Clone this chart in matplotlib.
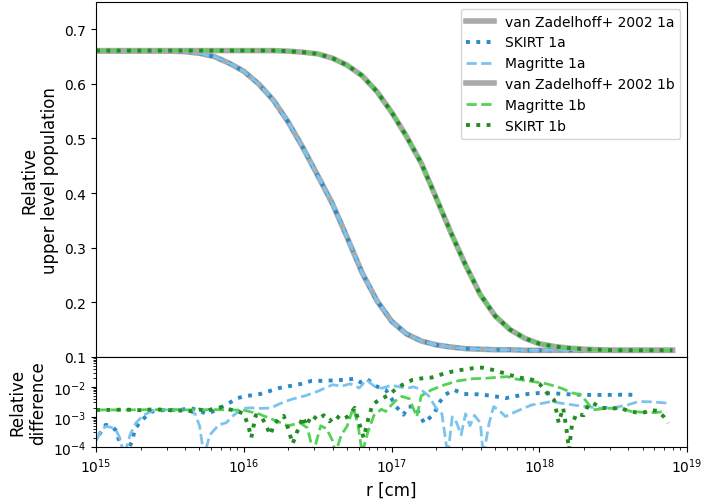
import numpy as np
import matplotlib.pyplot as plt
from matplotlib.ticker import LogLocator, NullFormatter

# Radial grid (log10 of r in cm) for the level populations
log_r = np.round(np.arange(15.0, 18.91, 0.1), 2)

# Relative upper level population, benchmark problems 1a and 1b
pop_1a = [0.660, 0.660, 0.660, 0.660, 0.660, 0.660, 0.659, 0.656, 0.650, 0.638,
          0.623, 0.600, 0.570, 0.530, 0.483, 0.432, 0.380, 0.318, 0.254, 0.203,
          0.165, 0.142, 0.129, 0.122, 0.118, 0.115, 0.114, 0.113, 0.113, 0.112,
          0.112, 0.112, 0.112, 0.112, 0.112, 0.112, 0.112, 0.112, 0.112, 0.112]
pop_1b = [0.661, 0.661, 0.661, 0.661, 0.661, 0.661, 0.661, 0.661, 0.661, 0.661,
          0.661, 0.661, 0.661, 0.660, 0.658, 0.655, 0.647, 0.634, 0.615, 0.586,
          0.548, 0.504, 0.455, 0.392, 0.328, 0.268, 0.214, 0.175, 0.150, 0.134,
          0.124, 0.119, 0.116, 0.114, 0.113, 0.112, 0.112, 0.112, 0.112, 0.112]

# Relative difference w.r.t. van Zadelhoff+ 2002 (log10 r, log10 difference)
skirt_1a_r = [15.02, 15.065, 15.1, 15.13, 15.155, 15.19, 15.245, 15.26, 15.3, 15.35,
              15.38, 15.45, 15.52, 15.58, 15.64, 15.7, 15.75, 15.8, 15.88, 15.955,
              16.0, 16.11, 16.24, 16.38, 16.46, 16.55, 16.67, 16.75, 16.79, 16.83,
              16.9, 16.96, 17.0, 17.03, 17.08, 17.11, 17.16, 17.22, 17.29, 17.32,
              17.36, 17.42, 17.49, 17.58, 17.68, 17.77, 17.85, 17.92, 17.99, 18.1,
              18.2, 18.3, 18.4, 18.5, 18.58, 18.65]
skirt_1a_d = [-3.6, -3.27, -3.3, -3.43, -3.77, -4.3, -3.82, -3.43, -3.16, -2.93,
              -2.82, -2.78, -2.77, -2.76, -2.71, -2.8, -2.91, -2.8, -2.6, -2.38,
              -2.32, -2.24, -2.04, -1.91, -1.8, -1.8, -1.77, -1.73, -1.85, -1.73,
              -1.99, -2.1, -2.4, -2.66, -2.93, -2.66, -2.66, -3.21, -2.88, -2.54,
              -2.27, -2.1, -2.24, -2.25, -2.3, -2.38, -2.3, -2.24, -2.21, -2.22,
              -2.25, -2.27, -2.27, -2.27, -2.26, -2.27]

magritte_1a_r = [15.0, 15.04, 15.07, 15.1, 15.13, 15.16, 15.19, 15.23, 15.27, 15.32,
                 15.38, 15.45, 15.55, 15.62, 15.67, 15.7, 15.73, 15.77, 15.83, 15.88,
                 15.93, 15.99, 16.05, 16.12, 16.18, 16.25, 16.32, 16.42, 16.5, 16.6,
                 16.66, 16.72, 16.78, 16.83, 16.88, 16.93, 17.0, 17.05, 17.1, 17.15,
                 17.2, 17.25, 17.3, 17.34, 17.38, 17.41, 17.44, 17.47, 17.5, 17.53,
                 17.56, 17.6, 17.62, 17.66, 17.69, 17.73, 17.77, 17.83, 17.9, 17.95,
                 18.02, 18.08, 18.15, 18.25, 18.4, 18.5, 18.6, 18.67, 18.75, 18.86]
magritte_1a_d = [-3.8, -3.4, -3.32, -3.35, -3.4, -3.7, -4.3, -3.6, -3.2, -2.95,
                 -2.8, -2.77, -2.76, -2.78, -2.9, -3.3, -4.3, -3.6, -3.27, -3.2,
                 -2.95, -2.72, -2.7, -2.72, -2.71, -2.55, -2.42, -2.29, -2.15, -1.93,
                 -1.98, -1.9, -2.04, -1.77, -1.97, -2.05, -1.95, -2.0, -2.05, -2.0,
                 -2.1, -2.3, -2.7, -2.9, -4.3, -3.0, -3.2, -3.6, -2.9, -3.3,
                 -2.95, -3.2, -4.3, -3.2, -2.66, -2.8, -2.99, -2.85, -2.7, -2.6,
                 -2.55, -2.49, -2.55, -2.62, -2.71, -2.7, -2.6, -2.49, -2.5, -2.54]

magritte_1b_r = [15.0, 15.2, 15.4, 15.6, 15.8, 16.0, 16.1, 16.2, 16.3, 16.38,
                 16.43, 16.47, 16.52, 16.56, 16.6, 16.62, 16.66, 16.7, 16.74, 16.77,
                 16.8, 16.84, 16.88, 16.93, 16.96, 17.0, 17.04, 17.07, 17.12, 17.17,
                 17.2, 17.27, 17.36, 17.45, 17.55, 17.62, 17.7, 17.78, 17.85, 17.95,
                 18.05, 18.15, 18.22, 18.28, 18.32, 18.36, 18.45, 18.55, 18.62, 18.7,
                 18.78, 18.86]
magritte_1b_d = [-2.77, -2.77, -2.76, -2.77, -2.76, -2.78, -2.9, -3.1, -3.3, -3.2,
                 -3.37, -4.2, -3.3, -3.4, -3.8, -4.2, -3.6, -3.3, -2.7, -3.2,
                 -4.2, -3.5, -2.95, -2.75, -2.82, -2.6, -2.4, -2.32, -2.4, -3.0,
                 -2.3, -2.1, -1.93, -1.8, -1.73, -1.72, -1.69, -1.66, -1.75, -1.82,
                 -1.9, -2.05, -2.2, -2.27, -2.5, -2.77, -2.72, -2.71, -2.82, -2.85,
                 -2.86, -2.82]

skirt_1b_r = [15.0, 15.1, 15.2, 15.3, 15.4, 15.5, 15.55, 15.6, 15.65, 15.7,
              15.75, 15.8, 15.85, 15.9, 15.95, 16.0, 16.03, 16.05, 16.08, 16.12,
              16.15, 16.18, 16.2, 16.23, 16.27, 16.3, 16.33, 16.36, 16.4, 16.42,
              16.46, 16.5, 16.54, 16.58, 16.62, 16.66, 16.7, 16.72, 16.75, 16.78,
              16.81, 16.84, 16.87, 16.91, 16.94, 16.98, 17.05, 17.14, 17.2, 17.27,
              17.34, 17.41, 17.48, 17.55, 17.61, 17.68, 17.75, 17.81, 17.9, 17.95,
              18.0, 18.05, 18.1, 18.13, 18.16, 18.18, 18.2, 18.22, 18.25, 18.3,
              18.33, 18.36, 18.42, 18.5, 18.55, 18.6, 18.65, 18.7, 18.75, 18.8,
              18.84, 18.87]
skirt_1b_d = [-2.77, -2.77, -2.76, -2.78, -2.75, -2.78, -2.8, -2.78, -2.82, -2.76,
              -2.8, -2.72, -2.68, -2.75, -2.8, -2.9, -3.3, -3.7, -2.95, -3.0,
              -3.3, -3.6, -3.3, -3.1, -2.97, -3.4, -3.9, -3.5, -3.0, -3.3,
              -2.95, -3.1, -2.95, -3.15, -2.95, -3.1, -3.0, -2.9, -2.7, -3.2,
              -3.7, -3.1, -2.6, -2.45, -2.38, -2.27, -1.99, -1.77, -1.72, -1.69,
              -1.58, -1.49, -1.43, -1.38, -1.36, -1.43, -1.53, -1.62, -1.73, -1.76,
              -1.9, -2.2, -2.45, -3.2, -2.7, -3.3, -4.1, -3.27, -2.9, -2.95,
              -2.6, -2.54, -2.7, -2.72, -2.71, -2.8, -2.85, -2.87, -2.78, -2.8,
              -2.99, -3.21]

c_ref = '#a9a9a9'
c_skirt_a = '#2a8ac8'
c_magritte_a = '#7cc4ee'
c_magritte_b = '#55d155'
c_skirt_b = '#228b22'

fig = plt.figure(figsize=(7.28, 5.02), dpi=100)
gs = fig.add_gridspec(2, 1, height_ratios=[355, 90], hspace=0.0,
                      left=0.132, right=0.944, top=0.994, bottom=0.108)
ax1 = fig.add_subplot(gs[0])
ax2 = fig.add_subplot(gs[1], sharex=ax1)

r = 10.0 ** log_r

ax1.plot(r, pop_1a, color=c_ref, lw=4, label='van Zadelhoff+ 2002 1a')
ax1.plot(r, pop_1a, color=c_skirt_a, lw=2.8, ls=':', label='SKIRT 1a')
ax1.plot(r, pop_1a, color=c_magritte_a, lw=2, ls='--', label='Magritte 1a')
ax1.plot(r, pop_1b, color=c_ref, lw=4, label='van Zadelhoff+ 2002 1b')
ax1.plot(r, pop_1b, color=c_magritte_b, lw=2, ls='--', label='Magritte 1b')
ax1.plot(r, pop_1b, color=c_skirt_b, lw=2.8, ls=':', label='SKIRT 1b')

ax1.set_xscale('log')
ax1.set_xlim(1e15, 1e19)
ax1.set_ylim(0.1, 0.75)
ax1.set_yticks([0.1, 0.2, 0.3, 0.4, 0.5, 0.6, 0.7])
ax1.tick_params(axis='x', which='both', bottom=False, labelbottom=False)
ax1.set_ylabel('Relative\nupper level population', fontsize=12)
ax1.legend(loc='upper right', fontsize=10)

ax2.plot(10.0 ** np.array(skirt_1a_r), 10.0 ** np.array(skirt_1a_d),
         color=c_skirt_a, lw=2.8, ls=':')
ax2.plot(10.0 ** np.array(magritte_1a_r), 10.0 ** np.array(magritte_1a_d),
         color=c_magritte_a, lw=2, ls='--')
ax2.plot(10.0 ** np.array(magritte_1b_r), 10.0 ** np.array(magritte_1b_d),
         color=c_magritte_b, lw=2, ls='--')
ax2.plot(10.0 ** np.array(skirt_1b_r), 10.0 ** np.array(skirt_1b_d),
         color=c_skirt_b, lw=2.8, ls=':')

ax2.set_yscale('log')
ax2.set_ylim(1e-4, 1e-1)
ax2.set_yticks([1e-4, 1e-3, 1e-2])
ax2.yaxis.set_minor_locator(LogLocator(base=10, subs=np.arange(2, 10) * 1.0, numticks=12))
ax2.yaxis.set_minor_formatter(NullFormatter())
ax2.set_xticks([1e15, 1e16, 1e17, 1e18, 1e19])
ax2.set_xlabel('r [cm]', fontsize=12)
ax2.set_ylabel('Relative\ndifference', fontsize=12)

fig.savefig('out.png', dpi=100)
